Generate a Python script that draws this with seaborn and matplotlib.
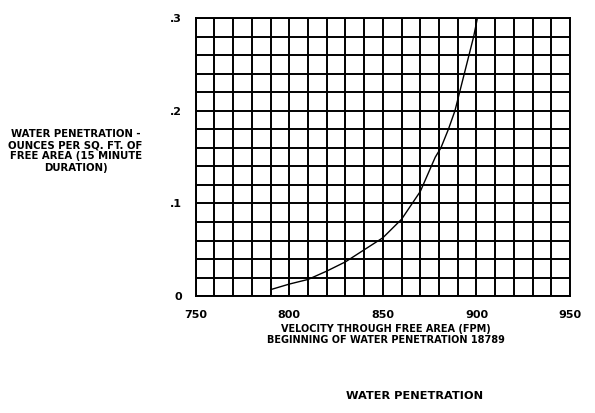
#!/usr/bin/env python3
"""Water penetration vs velocity through free area."""
import numpy as np
import pandas as pd
import seaborn as sns
import matplotlib.pyplot as plt

# values
velocity = [790, 800, 810, 820, 830, 840, 850, 860, 870, 878, 881, 885, 888.5, 891, 893.5, 896, 898.5, 900.5]
penetration = [0.007, 0.013, 0.018, 0.027, 0.037, 0.050, 0.063, 0.083, 0.113, 0.150, 0.160, 0.180,
               0.200, 0.220, 0.240, 0.260, 0.280, 0.300]
x_ticks = [750, 800, 850, 900, 950]
y_ticks = [0, 0.1, 0.2, 0.3]
y_tick_labels = ["0", ".1", ".2", ".3"]

df = pd.DataFrame({"velocity": velocity, "penetration": penetration})

sns.set_theme(style="white")
plt.rcParams["font.family"] = ["DejaVu Sans"]
plt.rcParams["text.color"] = "black"

fig = plt.figure(figsize=(5.95, 4.13), dpi=100)
ax = fig.add_axes([0.329, 0.283, 0.629, 0.673])

sns.lineplot(data=df, x="velocity", y="penetration", ax=ax, color="black", linewidth=1.0)

ax.set_xlim(750, 950)
ax.set_ylim(0, 0.3)
ax.set_xticks(np.arange(750, 951, 10), minor=True)
ax.set_yticks(np.arange(0, 0.301, 0.02), minor=True)
ax.set_xticks(x_ticks)
ax.set_yticks(y_ticks)
ax.set_yticklabels(y_tick_labels)
ax.grid(True, which="both", color="black", linewidth=1.4)
ax.tick_params(which="both", length=0, labelsize=8, pad=10, labelcolor="black")
for lbl in ax.get_xticklabels() + ax.get_yticklabels():
    lbl.set_fontweight("bold")
for sp in ax.spines.values():
    sp.set_color("black")
    sp.set_linewidth(1.4)
ax.set_xlabel("")
ax.set_ylabel("")

fig.text(0.127, 0.635, "WATER PENETRATION -\nOUNCES PER SQ. FT. OF\nFREE AREA (15 MINUTE\nDURATION)",
         ha="center", va="center", fontsize=7.3, fontweight="bold", linespacing=1.15)
fig.text(0.648, 0.19, "VELOCITY THROUGH FREE AREA (FPM)\nBEGINNING OF WATER PENETRATION 18789",
         ha="center", va="center", fontsize=7.0, fontweight="bold", linespacing=1.05)
fig.text(0.697, 0.04, "WATER PENETRATION", ha="center", va="center", fontsize=8.2, fontweight="bold")

fig.savefig("out.png", dpi=100)
